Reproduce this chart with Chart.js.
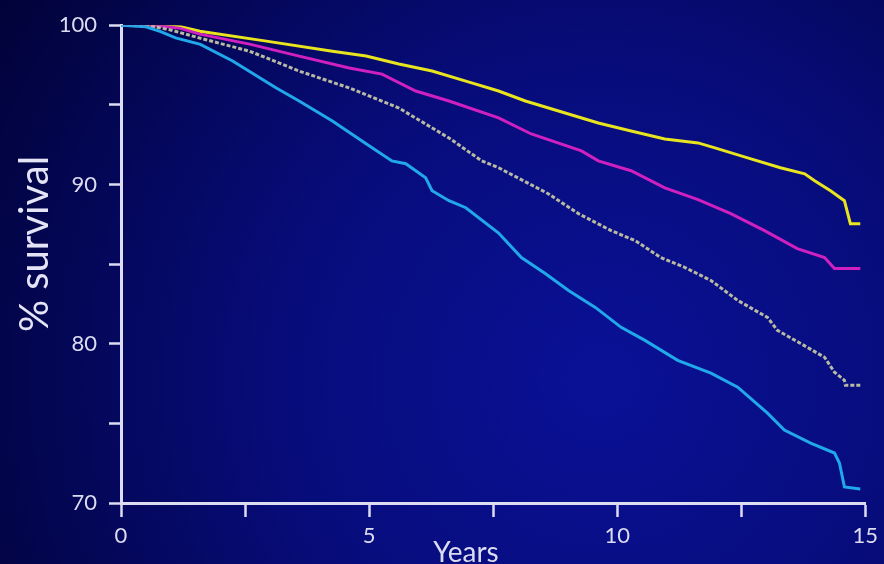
<!DOCTYPE html>
<html>
<head>
<meta charset="utf-8">
<script src="https://cdn.jsdelivr.net/npm/chart.js@4.4.1/dist/chart.umd.min.js"></script>
<style>
  html, body { margin: 0; padding: 0; background: #02043c; }
  #wrap { width: 884px; height: 564px; }
</style>
</head>
<body>
<div id="wrap"><canvas id="chart" width="884" height="564"></canvas></div>
<script>
// Survival curves, values (years, % survival)
const blueYears  = [0, 0.5, 0.8, 1.1, 1.6, 2.25, 3.13, 3.59, 4.26, 4.94, 5.46, 5.74, 6.14, 6.27, 6.61, 6.95, 7.61, 8.07, 8.55, 9.02, 9.56, 10.08, 10.56, 11.22, 11.89, 12.43, 13.03, 13.37, 13.9, 14.38, 14.48, 14.58, 14.9];
const blueSurv   = [100, 99.9, 99.6, 99.2, 98.8, 97.75, 96.06, 95.24, 93.99, 92.55, 91.48, 91.3, 90.42, 89.61, 88.98, 88.54, 86.95, 85.41, 84.41, 83.34, 82.28, 81.03, 80.21, 78.96, 78.15, 77.27, 75.64, 74.58, 73.76, 73.14, 72.51, 71.01, 70.88];

const greyYears  = [0, 0.6, 1.0, 1.59, 2.59, 3.59, 4.6, 5.6, 6.61, 7.27, 7.61, 8.61, 9.22, 9.88, 10.36, 10.88, 11.37, 11.89, 12.43, 13.03, 13.23, 13.69, 14.18, 14.38, 14.58, 14.6, 14.9];
const greySurv   = [100, 99.95, 99.7, 99.19, 98.37, 97.12, 96.06, 94.8, 92.92, 91.48, 91.05, 89.42, 88.17, 87.1, 86.48, 85.41, 84.78, 83.97, 82.72, 81.65, 80.84, 80.03, 79.15, 78.21, 77.71, 77.4, 77.4];

const magentaYears = [0, 0.8, 1.2, 1.59, 2.59, 3.59, 4.6, 5.26, 5.94, 6.61, 7.61, 8.27, 9.28, 9.62, 10.28, 10.96, 11.63, 12.29, 12.97, 13.63, 14.18, 14.38, 14.9];
const magentaSurv  = [100, 99.95, 99.8, 99.44, 98.81, 98.06, 97.31, 96.93, 95.87, 95.24, 94.18, 93.17, 92.11, 91.48, 90.86, 89.79, 89.05, 88.17, 87.1, 85.97, 85.41, 84.72, 84.72];

const yellowYears = [0, 0.8, 1.2, 1.59, 2.93, 4.26, 4.94, 5.6, 6.27, 6.95, 7.61, 8.15, 9.62, 10.28, 10.96, 11.63, 11.97, 12.63, 13.29, 13.78, 13.98, 14.3, 14.58, 14.7, 14.9];
const yellowSurv  = [100, 99.98, 99.9, 99.62, 99.0, 98.37, 98.06, 97.56, 97.12, 96.49, 95.87, 95.24, 93.86, 93.36, 92.86, 92.61, 92.3, 91.67, 91.05, 90.67, 90.23, 89.61, 88.98, 87.54, 87.54];

// axis ticks
const xTicks = [0, 2.5, 5, 7.5, 10, 12.5, 15];
const xLabels = ["0", "", "5", "", "10", "", "15"];
const yTicks = [70, 75, 80, 85, 90, 95, 100];
const yLabels = ["70", "", "80", "", "90", "", "100"];

const toPoints = (xs, ys) => xs.map((x, i) => ({ x: x, y: ys[i] }));

const axisColor = "#dcdcf2";
const textColor = "#dcdcf0";
const fontFamily = "Lato, 'Open Sans', sans-serif";

// background gradient + axis titles
const backdrop = {
  id: "backdrop",
  beforeDraw(chart) {
    const { ctx, width, height } = chart;
    const g = ctx.createRadialGradient(600, 380, 0, 600, 380, 720);
    g.addColorStop(0, "#0a1196");
    g.addColorStop(0.45, "#070c7a");
    g.addColorStop(1, "#010236");
    ctx.save();
    ctx.fillStyle = g;
    ctx.fillRect(0, 0, width, height);
    ctx.restore();
  },
  afterDraw(chart) {
    const { ctx } = chart;
    ctx.save();
    ctx.fillStyle = "#e4e4f6";
    ctx.textAlign = "center";
    ctx.textBaseline = "alphabetic";
    ctx.font = "40px " + fontFamily;
    ctx.translate(48, 244);
    ctx.rotate(-Math.PI / 2);
    ctx.fillText("% survival", 0, 0);
    ctx.restore();

    ctx.save();
    ctx.fillStyle = textColor;
    ctx.textAlign = "center";
    ctx.textBaseline = "alphabetic";
    ctx.font = "28px " + fontFamily;
    ctx.fillText("Years", 466, 562);
    ctx.restore();
  }
};

const line = (label, xs, ys, color, dash) => ({
  label: label,
  data: toPoints(xs, ys),
  borderColor: color,
  borderWidth: 3,
  borderDash: dash || [],
  pointRadius: 0,
  tension: 0,
  fill: false,
  showLine: true
});

new Chart(document.getElementById("chart"), {
  type: "scatter",
  data: {
    datasets: [
      line("blue", blueYears, blueSurv, "#20a8ea"),
      line("grey", greyYears, greySurv, "#b8bba2", [4, 2]),
      line("magenta", magentaYears, magentaSurv, "#d020c0"),
      line("yellow", yellowYears, yellowSurv, "#e8e41e")
    ]
  },
  options: {
    responsive: false,
    animation: false,
    layout: { padding: { top: 24, right: 16, left: 0, bottom: 0 } },
    plugins: { legend: { display: false }, tooltip: { enabled: false } },
    scales: {
      x: {
        type: "linear",
        min: 0,
        max: 15,
        afterBuildTicks: (scale) => { scale.ticks = xTicks.map(v => ({ value: v })); },
        afterFit: (scale) => { scale.height = 61; },
        border: { color: axisColor, width: 3 },
        grid: { drawOnChartArea: false, color: axisColor, tickLength: 14, tickWidth: 2.5 },
        ticks: {
          color: textColor,
          padding: 6,
          maxRotation: 0,
          autoSkip: false,
          font: { family: fontFamily, size: 22 },
          callback: (v) => xLabels[xTicks.indexOf(v)]
        }
      },
      y: {
        type: "linear",
        min: 70,
        max: 100,
        afterBuildTicks: (scale) => { scale.ticks = yTicks.map(v => ({ value: v })); },
        afterFit: (scale) => { scale.width = 121; },
        border: { color: axisColor, width: 3 },
        grid: { drawOnChartArea: false, color: axisColor, tickLength: 12, tickWidth: 2.5 },
        ticks: {
          color: textColor,
          padding: 12,
          autoSkip: false,
          font: { family: fontFamily, size: 22 },
          callback: (v) => yLabels[yTicks.indexOf(v)]
        }
      }
    }
  },
  plugins: [backdrop]
});
</script>
</body>
</html>
